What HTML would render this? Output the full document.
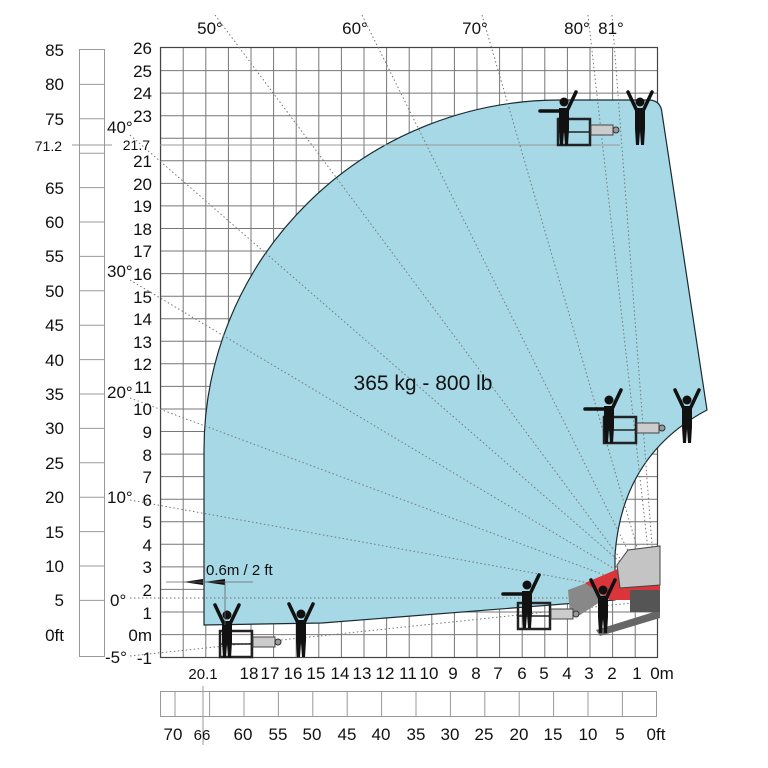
<!DOCTYPE html>
<html><head><meta charset="utf-8"><style>
html,body{margin:0;padding:0;background:#fff;}
svg{display:block;font-family:"Liberation Sans Narrow","Liberation Sans",sans-serif;}
</style></head><body>
<svg width="768" height="768" viewBox="0 0 768 768" xmlns="http://www.w3.org/2000/svg">
<defs>
<g id="p">
<circle cx="0" cy="-43" r="4.5" fill="#111"/>
<path d="M-5,-37 L5,-37 L5,-16 L4,0 L1,0 L0,-14 L-1,0 L-4,0 L-5,-16 Z" fill="#111"/>
<path d="M-3,-34 L-12,-53 M3,-34 L12,-53" stroke="#111" stroke-width="3.5" stroke-linecap="round"/>
</g>
<g id="ph">
<circle cx="0" cy="-43" r="4.5" fill="#111"/>
<path d="M-5,-37 L5,-37 L5,-16 L4,0 L1,0 L0,-14 L-1,0 L-4,0 L-5,-16 Z" fill="#111"/>
<path d="M-3,-34 L-24,-34 M3,-34 L12,-53" stroke="#111" stroke-width="3.5" stroke-linecap="round"/>
</g>
<g id="bk">
<rect x="0" y="-26" width="32" height="26" fill="none" stroke="#222" stroke-width="2.5"/>
<line x1="0" y1="-13" x2="32" y2="-13" stroke="#222" stroke-width="1.5"/>
<rect x="33" y="-20" width="22" height="10" fill="#ccc" stroke="#444" stroke-width="1"/>
<circle cx="58" cy="-15" r="3" fill="#999" stroke="#333"/>
</g>
</defs>

<g stroke="#777" stroke-width="1">
<path d="M160.6,48V657 M183.2,48V657 M205.8,48V657 M228.4,48V657 M251,48V657 M273.6,48V657 M296.2,48V657 M318.8,48V657 M341.4,48V657 M364,48V657 M386.6,48V657 M409.2,48V657 M431.8,48V657 M454.4,48V657 M477,48V657 M499.6,48V657 M522.2,48V657 M544.8,48V657 M567.4,48V657 M590,48V657 M612.6,48V657 M635.2,48V657"/>
<path d="M160,70.6H657 M160,93.1H657 M160,115.7H657 M160,138.2H657 M160,160.8H657 M160,183.4H657 M160,205.9H657 M160,228.5H657 M160,251H657 M160,273.6H657 M160,296.2H657 M160,318.7H657 M160,341.3H657 M160,363.8H657 M160,386.4H657 M160,409H657 M160,431.5H657 M160,454.1H657 M160,476.6H657 M160,499.2H657 M160,521.8H657 M160,544.3H657 M160,566.9H657 M160,589.4H657 M160,612H657 M160,634.6H657"/>
</g>
<rect x="160.5" y="47.5" width="497" height="610" fill="none" stroke="#444" stroke-width="1.2"/>

<path d="M204,625 L204,450 A356,350 0 0 1 560,100 L650,100 Q661,101 662,113 L707,410 Q622,455 615,555 L615,600 L322,623 Z" fill="#a6d8e6" stroke="#1a2a30" stroke-width="1.2"/>

<line x1="160" y1="145" x2="620" y2="145" stroke="#999" stroke-width="1"/>

<g stroke="#777" stroke-width="1" stroke-dasharray="1.5,2.5" fill="none">
<path d="M215,15 L640,585"/>
<path d="M362,15 L645,585"/>
<path d="M482,15 L648,585"/>
<path d="M588,15 L652,585"/>
<path d="M612,15 L655,585"/>
<path d="M130,135 L650,588"/>
<path d="M130,280 L650,590"/>
<path d="M130,398 L650,592"/>
<path d="M130,500 L650,594"/>
<path d="M130,598 L660,598"/>
<path d="M130,656 L660,600"/>
</g>

<g>
<path d="M568,590 L600,578 L630,576 L630,596 L603,600 L580,615 L570,615 Z" fill="#888"/>
<path d="M585,583 L620,568 L660,565 L660,600 L610,600 Z" fill="#d9353b"/>
<path d="M617,565 L628,550 L660,546 L660,585 L620,588 Z" fill="#c4c4c4" stroke="#444"/>
<path d="M596,630 L660,610 L660,618 L600,636 Z" fill="#666"/>
<rect x="630" y="590" width="30" height="22" fill="#555"/>
</g>

<use href="#bk" x="220" y="657"/>
<use href="#p" x="227" y="658"/>
<use href="#p" x="301" y="657"/>
<use href="#bk" x="518" y="629"/>
<use href="#ph" x="527" y="628"/>
<use href="#p" x="603" y="633"/>
<use href="#bk" x="558" y="145"/>
<use href="#ph" x="564" y="145"/>
<use href="#p" x="640" y="145"/>
<use href="#bk" x="604" y="443"/>
<use href="#ph" x="609" y="443"/>
<use href="#p" x="687" y="443"/>

<path d="M183,582 L203,579 L203,585 Z M204,582 L225,579 L225,585 Z" fill="#111"/>
<line x1="166" y1="582" x2="253" y2="582" stroke="#666" stroke-width="0.8"/>
<line x1="225" y1="582" x2="225" y2="625" stroke="#666" stroke-width="0.8"/>
<text x="206" y="575" font-size="15" fill="#111">0.6m / 2 ft</text>

<text x="423" y="390" font-size="21" text-anchor="middle" fill="#111" font-family="Liberation Sans,sans-serif">365 kg - 800 lb</text>

<rect x="79.5" y="49.5" width="25" height="607" fill="none" stroke="#999"/>
<g stroke="#999"><path d="M80,84.4H104 M80,118.8H104 M80,153.2H104 M80,187.6H104 M80,222H104 M80,256.4H104 M80,290.8H104 M80,325.2H104 M80,359.6H104 M80,394H104 M80,428.4H104 M80,462.8H104 M80,497.2H104 M80,531.6H104 M80,566H104 M80,600.4H104 M72,145H112"/></g>
<g font-size="17" text-anchor="end" fill="#111">
<text x="64" y="56">85</text><text x="64" y="90">80</text><text x="64" y="125">75</text>
<text x="64" y="194">65</text><text x="64" y="228">60</text><text x="64" y="262">55</text>
<text x="64" y="297">50</text><text x="64" y="331">45</text><text x="64" y="366">40</text>
<text x="64" y="400">35</text><text x="64" y="434">30</text><text x="64" y="469">25</text>
<text x="64" y="503">20</text><text x="64" y="538">15</text><text x="64" y="572">10</text>
<text x="64" y="606">5</text><text x="64" y="641">0ft</text>
<text x="62" y="151" font-size="14">71.2</text>
</g>

<g font-size="17" text-anchor="end" fill="#111">
<text x="152" y="54">26</text><text x="152" y="77">25</text><text x="152" y="99">24</text><text x="152" y="122">23</text>
<text x="150" y="150" font-size="14">21.7</text>
<text x="152" y="167">21</text><text x="152" y="190">20</text><text x="152" y="212">19</text><text x="152" y="235">18</text>
<text x="152" y="257">17</text><text x="152" y="280">16</text><text x="152" y="303">15</text><text x="152" y="325">14</text>
<text x="152" y="348">13</text><text x="152" y="370">12</text><text x="152" y="393">11</text><text x="152" y="415">10</text>
<text x="152" y="438">9</text><text x="152" y="461">8</text><text x="152" y="483">7</text><text x="152" y="506">6</text>
<text x="152" y="528">5</text><text x="152" y="551">4</text><text x="152" y="573">3</text><text x="152" y="596">2</text>
<text x="152" y="619">1</text><text x="152" y="641">0m</text><text x="152" y="664">-1</text>
</g>
<g font-size="17" fill="#111">
<text x="107" y="133">40°</text><text x="107" y="277">30°</text><text x="107" y="398">20°</text>
<text x="107" y="503">10°</text><text x="110" y="606">0°</text><text x="105" y="663">-5°</text>
<text x="210" y="34" text-anchor="middle">50°</text><text x="355" y="34" text-anchor="middle">60°</text>
<text x="475" y="34" text-anchor="middle">70°</text><text x="577" y="34" text-anchor="middle">80°</text>
<text x="611" y="34" text-anchor="middle">81°</text>
</g>

<g font-size="17" text-anchor="middle" fill="#111">
<text x="203" y="679" font-size="15">20.1</text>
<text x="249" y="679">18</text><text x="270" y="679">17</text><text x="293" y="679">16</text><text x="316" y="679">15</text>
<text x="340" y="679">14</text><text x="362" y="679">13</text><text x="385" y="679">12</text><text x="408" y="679">11</text>
<text x="429" y="679">10</text><text x="453" y="679">9</text><text x="476" y="679">8</text><text x="498" y="679">7</text>
<text x="522" y="679">6</text><text x="544" y="679">5</text><text x="567" y="679">4</text><text x="589" y="679">3</text>
<text x="612" y="679">2</text><text x="637" y="679">1</text><text x="662" y="679">0m</text>
</g>

<rect x="160.5" y="691.5" width="496" height="25" fill="none" stroke="#999"/>
<g stroke="#999"><path d="M175,692V717 M209.6,692V717 M244,692V717 M278.4,692V717 M312.8,692V717 M347.2,692V717 M381.6,692V717 M416,692V717 M450.4,692V717 M484.8,692V717 M519.2,692V717 M553.6,692V717 M588,692V717 M622.4,692V717 M203,686V745"/></g>
<g font-size="17" text-anchor="middle" fill="#111">
<text x="173" y="740">70</text><text x="202" y="740" font-size="15">66</text><text x="243" y="740">60</text>
<text x="278" y="740">55</text><text x="312" y="740">50</text><text x="347" y="740">45</text><text x="381" y="740">40</text>
<text x="416" y="740">35</text><text x="450" y="740">30</text><text x="484" y="740">25</text><text x="519" y="740">20</text>
<text x="553" y="740">15</text><text x="588" y="740">10</text><text x="620" y="740">5</text><text x="656" y="740">0ft</text>
</g>
</svg>
</body></html>
